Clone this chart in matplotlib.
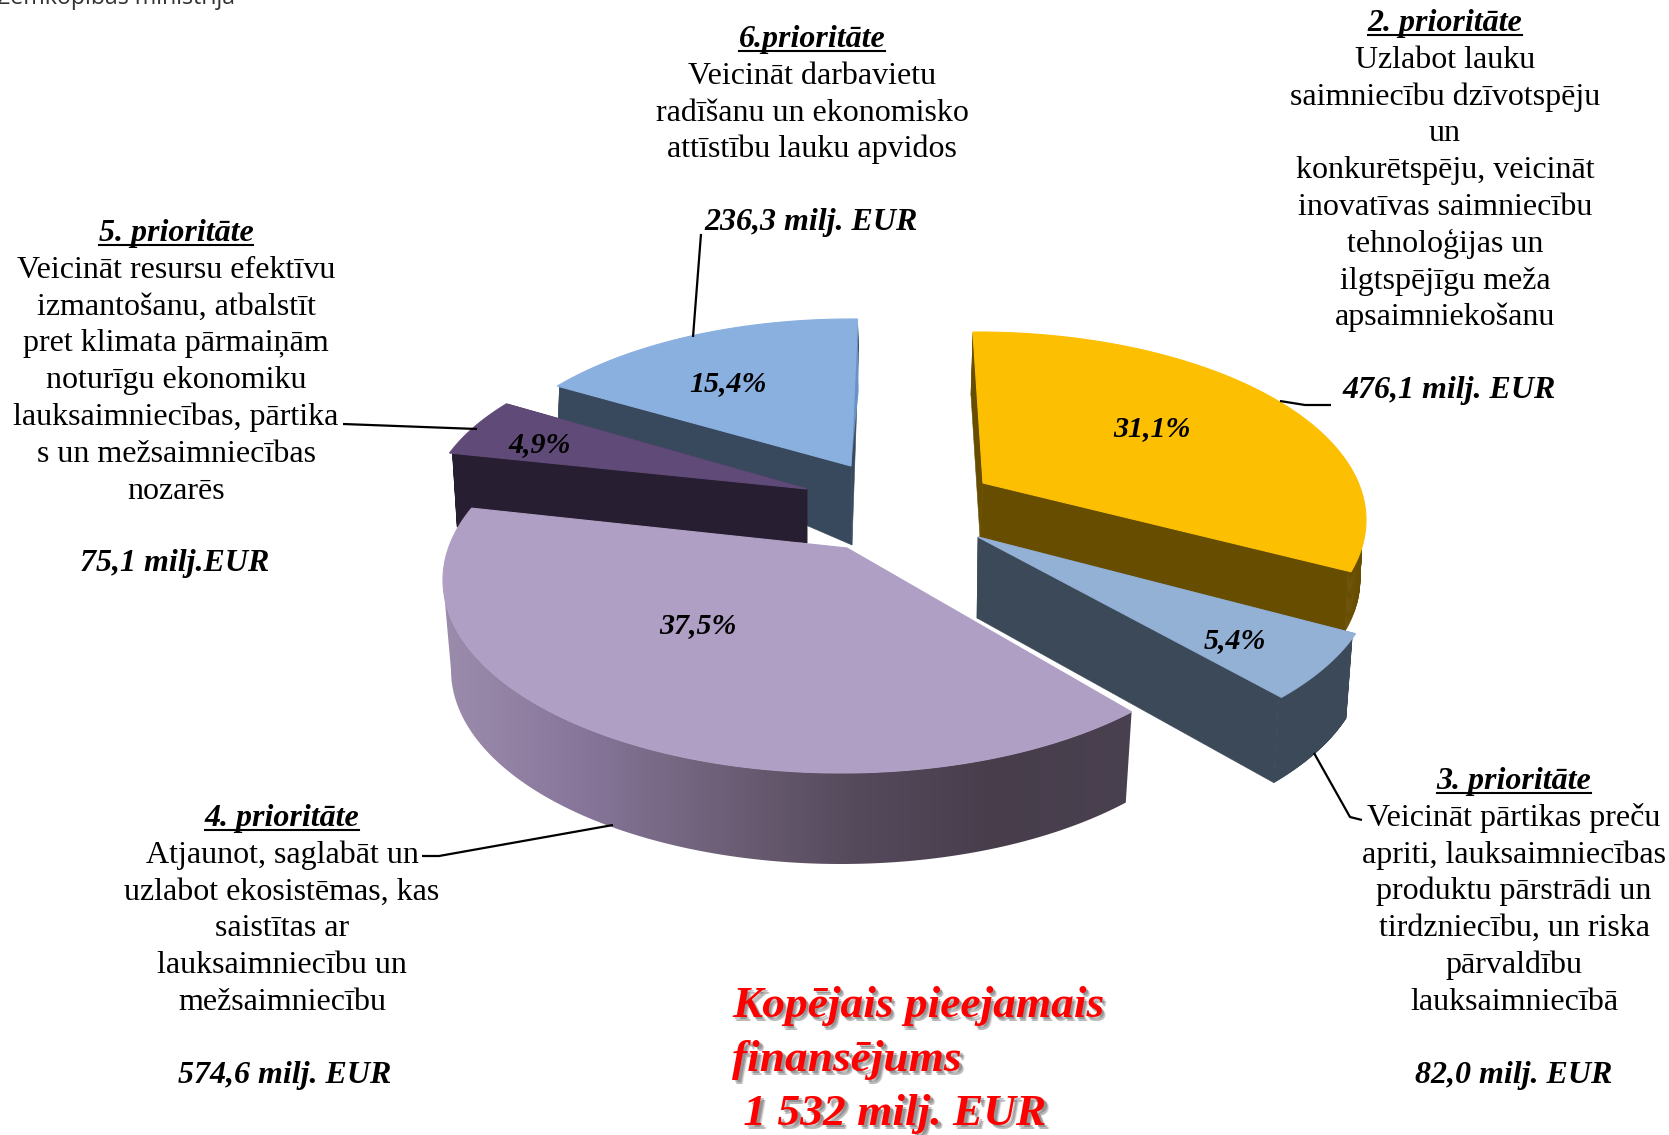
import numpy as np
import matplotlib
matplotlib.use("Agg")
import matplotlib.pyplot as plt
from matplotlib.colors import LinearSegmentedColormap
from matplotlib.patches import Polygon

# ---- data ----
shares = [31.1, 5.4, 37.5, 4.9, 15.4]
share_labels = ["31,1%", "5,4%", "37,5%", "4,9%", "15,4%"]
amount_labels = ["476,1 milj. EUR", "82,0 milj. EUR", "574,6 milj. EUR", "75,1 milj.EUR", "236,3 milj. EUR"]
headers = ["2. prioritāte", "3. prioritāte", "4. prioritāte", "5. prioritāte", "6.prioritāte"]
bodies = [
    ["Uzlabot lauku", "saimniecību dzīvotspēju", "un", "konkurētspēju, veicināt",
     "inovatīvas saimniecību", "tehnoloģijas un", "ilgtspējīgu meža", "apsaimniekošanu"],
    ["Veicināt pārtikas preču", "apriti, lauksaimniecības", "produktu pārstrādi un",
     "tirdzniecību, un riska", "pārvaldību", "lauksaimniecībā"],
    ["Atjaunot, saglabāt un", "uzlabot ekosistēmas, kas", "saistītas ar",
     "lauksaimniecību un", "mežsaimniecību"],
    ["Veicināt resursu efektīvu", "izmantošanu, atbalstīt", "pret klimata pārmaiņām",
     "noturīgu ekonomiku", "lauksaimniecības, pārtika", "s un mežsaimniecības", "nozarēs"],
    ["Veicināt darbavietu", "radīšanu un ekonomisko", "attīstību lauku apvidos"],
]
total_lines = ["Kopējais pieejamais", "finansējums", " 1 532 milj. EUR"]

# ---- drawing styles: perspective ellipse of each exploded slice ----
# apex, ellipse centre, radii for the top face and for the bottom face, start angle, angular stretch
slices = [
    dict(top=((983, 483), (977, 520), 389, 188), bot=((980, 537), (975, 580), 385, 185),
         start=90.6, k=0.952, face="#FCBF02", side="#674D00", edge_face=None),
    dict(top=((978, 537), (977, 575), 398, 190), bot=((977, 618), (977, 659), 388, 192),
         start=-18.0, k=1.137, face="#93B1D5", side="#3C4959", edge_face=None),
    dict(top=((847, 548), (841, 580), 398, 193), bot=((847, 640), (841, 670), 390, 194),
         start=-43.1, k=1.176, face="#AF9FC4", side=None, edge_face=None),
    dict(top=((807, 489), (807, 510), 378, 175), bot=((807, 543), (807, 584), 370, 175),
         start=-199.0, k=1.04, face="#604A78", side="#271E31", edge_face=None),
    dict(top=((851, 466), (851, 500), 378, 181), bot=((852, 545), (852, 532), 378, 181),
         start=-219.0, k=0.938, face="#8AB0E0", side="#38495E", edge_face="#6A92C6"),
]
draw_order = [4, 3, 2, 0, 1]
gradient_cmap = LinearSegmentedColormap.from_list(
    "side", ["#9C8CAC", "#87769A", "#6E6078", "#554A5C", "#473D4B", "#4A4150"])

fig = plt.figure(figsize=(16.69, 11.35), dpi=100, facecolor="white")
ax = fig.add_axes([0, 0, 1, 1])
ax.set_xlim(0, 1669)
ax.set_ylim(1135, 0)
ax.axis("off")


def outline(geom, start, sweep, n=160):
    apex, centre, rx, ry = geom
    t = np.radians(np.linspace(start, start - sweep, n))
    x = centre[0] + rx * np.cos(t)
    y = centre[1] - ry * np.sin(t)
    return np.column_stack([np.r_[apex[0], x], np.r_[apex[1], y]])


z = 1.0
for i in draw_order:
    s = slices[i]
    sweep = shares[i] * 3.6 * s["k"]
    top = outline(s["top"], s["start"], sweep)
    bot = outline(s["bot"], s["start"], sweep)
    if s["side"] is None:
        # curved outer wall with a horizontal shading gradient, as far as the leftmost point
        sw = min(sweep, s["start"] + 180)
        t_top = outline(s["top"], s["start"], sw)[1:]
        t_bot = outline(s["bot"], s["start"], sw)[1:]
        wall = np.vstack([t_top, t_bot[::-1]])
        poly = Polygon(wall, closed=True, fc="none", ec="none", transform=ax.transData)
        ax.add_patch(poly)
        im = ax.imshow(np.linspace(0, 1, 256)[None, :], cmap=gradient_cmap, aspect="auto",
                       extent=(wall[:, 0].min(), wall[:, 0].max(), wall[:, 1].max(), wall[:, 1].min()),
                       zorder=z)
        im.set_clip_path(poly)
        ax.set_xlim(0, 1669)
        ax.set_ylim(1135, 0)
    else:
        # walls start just inside the top face, so no dark fringe shows round its far rim
        inner = top[0] + (top - top[0]) * 0.992
        n = len(top)
        for j in range(n):
            k = (j + 1) % n
            ax.fill([inner[j, 0], inner[k, 0], bot[k, 0], bot[j, 0]],
                    [inner[j, 1], inner[k, 1], bot[k, 1], bot[j, 1]],
                    fc=s["side"], ec=s["side"], lw=0.4, zorder=z)
    z += 0.01
    if s["edge_face"]:
        ax.fill([top[-1, 0], bot[-1, 0], top[0, 0]], [top[-1, 1], bot[-1, 1] + 40, top[0, 1]],
                fc=s["edge_face"], ec="none", zorder=z)
        z += 0.01
    ax.fill(top[:, 0], top[:, 1], fc=s["face"], ec=s["face"], lw=0.8, zorder=z)
    z += 0.01

# ---- leader lines ----
leaders = [
    [(1280, 401), (1305, 405), (1331, 405)],
    [(1314, 753), (1350, 817), (1362, 820)],
    [(613, 825), (439, 856), (422, 856)],
    [(343, 424), (477, 429)],
    [(701, 234), (693, 337)],
]
for pts in leaders:
    xs, ys = zip(*pts)
    ax.plot(xs, ys, color="black", lw=1.6, zorder=3, solid_capstyle="butt")

# ---- text ----
serif = "Liberation Serif"
body_pt = 32.0 * 0.72
pct_pt = 30.0 * 0.72
step = 36.8
blocks = [
    (1445, 31, 398, 1449),
    (1514, 789, 1083, 1514),
    (282, 826, 1083, 285),
    (176, 241, 571, 175),
    (812, 47, 230, 811),
]
renderer = fig.canvas.get_renderer()
for i, (cx, y0, yv, xv) in enumerate(blocks):
    h = ax.text(cx, y0, headers[i], family=serif, fontsize=body_pt, style="italic",
                weight="bold", ha="center", va="baseline", zorder=4)
    bb = h.get_window_extent(renderer)
    ax.plot([bb.x0, bb.x1], [y0 + 3.5, y0 + 3.5], color="black", lw=1.5, zorder=4)
    for j, line in enumerate(bodies[i]):
        ax.text(cx, y0 + step * (j + 1), line, family=serif, fontsize=body_pt,
                ha="center", va="baseline", zorder=4, color="black")
    ax.text(xv, yv, amount_labels[i], family=serif, fontsize=body_pt, style="italic",
            weight="bold", ha="center", va="baseline", zorder=4)

label_pos = [(1152, 436), (1235, 648), (698, 633), (540, 452), (728, 391)]
for lab, (x, y) in zip(share_labels, label_pos):
    ax.text(x, y, lab, family=serif, fontsize=pct_pt, style="italic", weight="bold",
            ha="center", va="baseline", zorder=4)

title_y = [1017, 1071, 1125]
for line, y in zip(total_lines, title_y):
    ax.text(732, y, line, family=serif, fontsize=32.7, style="italic", weight="bold",
            color="#FF0000", ha="left", va="baseline", zorder=5)
    for dx, dy, a in [(3.5, 3.5, 0.30), (2.5, 2.5, 0.35), (4.5, 4.5, 0.15)]:
        ax.text(732 + dx, y + dy, line, family=serif, fontsize=32.7, style="italic",
                weight="bold", color="#555555", alpha=a, ha="left", va="baseline", zorder=4.5)

ax.text(-3, 4, "Zemkopības ministrija", family="Open Sans", fontsize=16.7, color="#333333",
        ha="left", va="baseline", zorder=4, clip_on=True)

fig.savefig("out.png", dpi=100)
